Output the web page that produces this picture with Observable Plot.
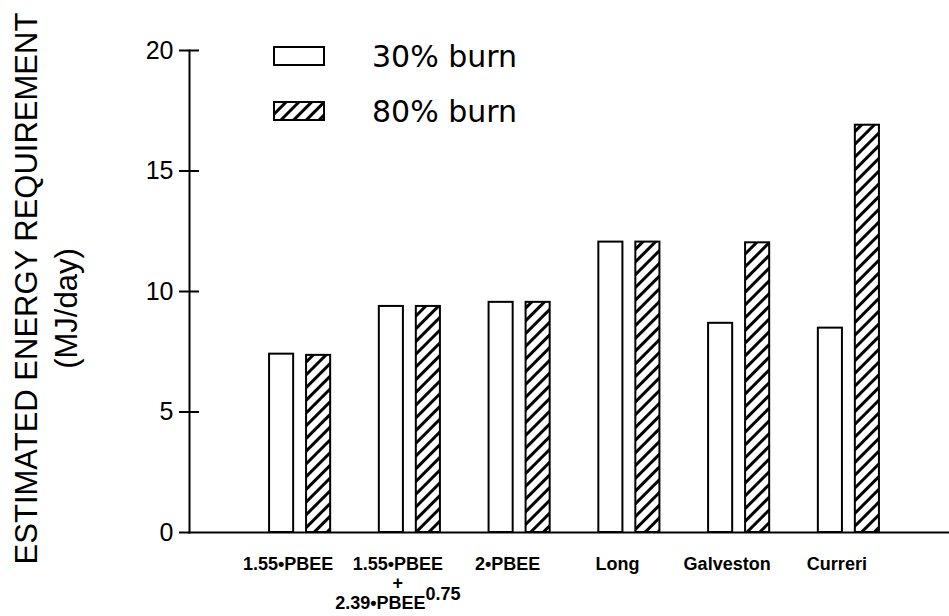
<!DOCTYPE html>
<html><head><meta charset="utf-8">
<script src="https://cdn.jsdelivr.net/npm/d3@7"></script>
<script src="https://cdn.jsdelivr.net/npm/@observablehq/plot@0.6"></script>
<style>body{margin:0;background:#fff} #chart{width:949px;height:616px}</style>
</head><body><div id="chart"></div>
<script>
const categories = ["1.55•PBEE", "1.55•PBEE + 2.39•PBEE^0.75", "2•PBEE", "Long", "Galveston", "Curreri"];
const tickLabels = ["1.55•PBEE", "1.55•PBEE\n+\n2.39•PBEE0.75", "2•PBEE", "Long", "Galveston", "Curreri"];
const burn30 = [7.4, 9.38, 9.55, 12.05, 8.68, 8.48];
const burn80 = [7.35, 9.38, 9.55, 12.05, 12.02, 16.9];
const yTicks = [0, 5, 10, 15, 20];
const seriesNames = ["30% burn", "80% burn"];
const yTitle = "ESTIMATED ENERGY REQUIREMENT";
const yUnits = "(MJ/day)";

const rows30 = categories.map((c, i) => ({cat: c, value: burn30[i]}));
const rows80 = categories.map((c, i) => ({cat: c, value: burn80[i]}));

const plot = Plot.plot({
  width: 949, height: 616,
  marginLeft: 189, marginRight: 0, marginTop: 50, marginBottom: 84,
  style: {fontFamily: "'Liberation Sans', Arial, sans-serif", background: "white", color: "black"},
  x: {type: "band", domain: categories, range: [221.4, 926.6], padding: 0.4252, round: false, label: null},
  y: {domain: [0, 20], label: null},
  marks: [
    Plot.barY(rows30, {x: "cat", y: "value", fill: "white", stroke: "black", strokeWidth: 2, insetLeft: 1, insetRight: 38}),
    Plot.barY(rows80, {x: "cat", y: "value", fill: "url(#hatch)", stroke: "black", strokeWidth: 2, insetLeft: 38, insetRight: 1}),
    Plot.frame({anchor: "left", strokeWidth: 2}),
    Plot.frame({anchor: "bottom", strokeWidth: 2}),
    Plot.axisY({ticks: yTicks, tickSize: 10, tickPadding: 6, fontSize: 25, label: null, strokeWidth: 2}),
    Plot.axisY({ticks: yTicks.filter(t => t > 0), tickSize: 10, dx: 10, tickFormat: () => "", label: null, strokeWidth: 2}),
    Plot.axisX({tickSize: 0, tickPadding: 23, fontSize: 18, fontWeight: "bold", lineHeight: 1.1, dx: -12, label: null,
      tickFormat: c => tickLabels[categories.indexOf(c)]}),
    Plot.text([yTitle], {frameAnchor: "left", textAnchor: "middle", rotate: -90, dx: -162.5, dy: -3, fontSize: 31, text: d => d}),
    Plot.text([yUnits], {frameAnchor: "left", textAnchor: "middle", rotate: -90, dx: -122, dy: 17, fontSize: 31, text: d => d})
  ]
});

const svg = d3.select(plot);
const defs = svg.insert("defs", ":first-child");
const pat = defs.append("pattern").attr("id", "hatch").attr("patternUnits", "userSpaceOnUse")
  .attr("width", 9).attr("height", 9).attr("patternTransform", "rotate(45)");
pat.append("rect").attr("width", 9).attr("height", 9).attr("fill", "white");
pat.append("line").attr("x1", 4.5).attr("y1", 0).attr("x2", 4.5).attr("y2", 9).attr("stroke", "black").attr("stroke-width", 3);

// superscript on the compound label
svg.selectAll("tspan").each(function() {
  if (this.textContent === "2.39•PBEE0.75") {
    this.textContent = "2.39•PBEE";
    d3.select(this.parentNode).append("tspan").attr("dy", "-0.5em").text("0.75");
  }
});

// legend
const leg = svg.append("g").attr("text-anchor", "start");
const fills = ["white", "url(#hatch)"];
const rowsY = [56, 111];
seriesNames.forEach((name, i) => {
  leg.append("rect").attr("x", 274).attr("y", rowsY[i] - 9).attr("width", 50).attr("height", 18)
    .attr("fill", fills[i]).attr("stroke", "black").attr("stroke-width", 2);
  leg.append("text").attr("x", 372).attr("y", rowsY[i]).attr("dy", "0.36em").attr("text-anchor", "start")
    .attr("font-family", "'DejaVu Sans', sans-serif").attr("font-size", 30).attr("fill", "black").text(name);
});

document.getElementById("chart").appendChild(plot);
</script>
</body></html>
